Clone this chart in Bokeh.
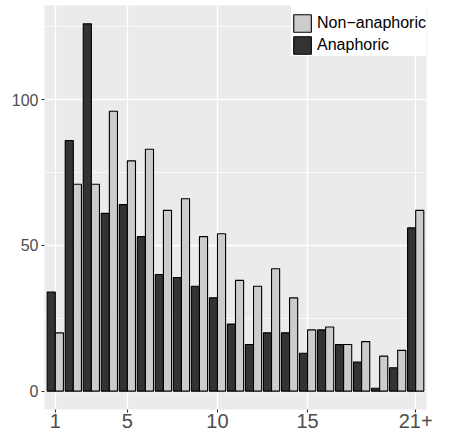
from bokeh.plotting import figure
from bokeh.models import Range1d, FixedTicker, Legend, LegendItem, ColumnDataSource
from bokeh.embed import file_html
from bokeh.resources import INLINE

categories = ["1", "2", "3", "4", "5", "6", "7", "8", "9", "10", "11", "12", "13",
              "14", "15", "16", "17", "18", "19", "20", "21+"]
anaphoric = [34, 86, 126, 61, 64, 53, 40, 39, 36, 32, 23, 16, 20, 20, 13, 21, 16, 10, 1, 8, 56]
non_anaphoric = [20, 71, 71, 96, 79, 83, 62, 66, 53, 54, 38, 36, 42, 32, 21, 22, 16, 17, 12, 14, 62]
tick_labels = ["1", "5", "10", "15", "21+"]
y_ticks = [0, 50, 100]
y_minor_ticks = [25, 75, 125]
series_names = ["Non\u2212anaphoric", "Anaphoric"]

pos = list(range(1, len(categories) + 1))
bar_w = 0.45
src = ColumnDataSource(dict(
    xa=[p - bar_w / 2 for p in pos],
    xn=[p + bar_w / 2 for p in pos],
    a=anaphoric,
    n=non_anaphoric,
))

ymax = max(max(anaphoric), max(non_anaphoric))
pad = 0.05 * ymax

p = figure(width=435, height=430, output_backend="svg", toolbar_location=None,
           x_range=Range1d(0.4, len(categories) + 0.6),
           y_range=Range1d(-pad, ymax + pad))
p.min_border_left = 44
p.min_border_right = 9
p.min_border_top = 5
p.min_border_bottom = 0
p.outline_line_color = None
p.background_fill_color = "#EBEBEB"
p.border_fill_color = "white"

ra = p.vbar(x="xa", top="a", bottom=0, width=bar_w, source=src,
            fill_color="#333333", line_color="black", line_width=1.1)
rn = p.vbar(x="xn", top="n", bottom=0, width=bar_w, source=src,
            fill_color="#CCCCCC", line_color="black", line_width=1.1)

tick_pos = [pos[categories.index(t)] for t in tick_labels]
p.xaxis.ticker = FixedTicker(ticks=tick_pos)
p.xaxis.major_label_overrides = {tp: t for tp, t in zip(tick_pos, tick_labels)}
p.yaxis.ticker = FixedTicker(ticks=y_ticks, minor_ticks=y_minor_ticks)

for ax in (p.xaxis, p.yaxis):
    ax.axis_line_color = None
    ax.major_tick_line_color = "#333333"
    ax.major_tick_line_width = 1.1
    ax.major_tick_in = 0
    ax.major_tick_out = 3
    ax.minor_tick_line_color = None
    ax.major_label_text_color = "#4D4D4D"
    ax.major_label_text_font = "Liberation Sans"
p.xaxis.major_label_standoff = 1
p.yaxis.major_label_standoff = 2
p.xaxis.major_label_text_font_size = "20px"
p.yaxis.major_label_text_font_size = "16px"

p.xgrid.grid_line_color = "white"
p.xgrid.grid_line_width = 1.4
p.ygrid.grid_line_color = "white"
p.ygrid.grid_line_width = 1.4
p.ygrid.minor_grid_line_color = "white"
p.ygrid.minor_grid_line_width = 0.7

legend = Legend(items=[LegendItem(label=series_names[0], renderers=[rn]),
                       LegendItem(label=series_names[1], renderers=[ra])],
                location="top_right", margin=0, padding=8, spacing=0,
                glyph_width=22, glyph_height=22, label_standoff=4,
                label_text_font="Liberation Sans", label_text_font_size="16px",
                label_text_color="black", label_height=22,
                title=" ", title_text_font_size="5px", title_standoff=1,
                background_fill_color="white", background_fill_alpha=1.0,
                border_line_color=None)
p.add_layout(legend)

open("out.html", "w").write(file_html(p, INLINE))
